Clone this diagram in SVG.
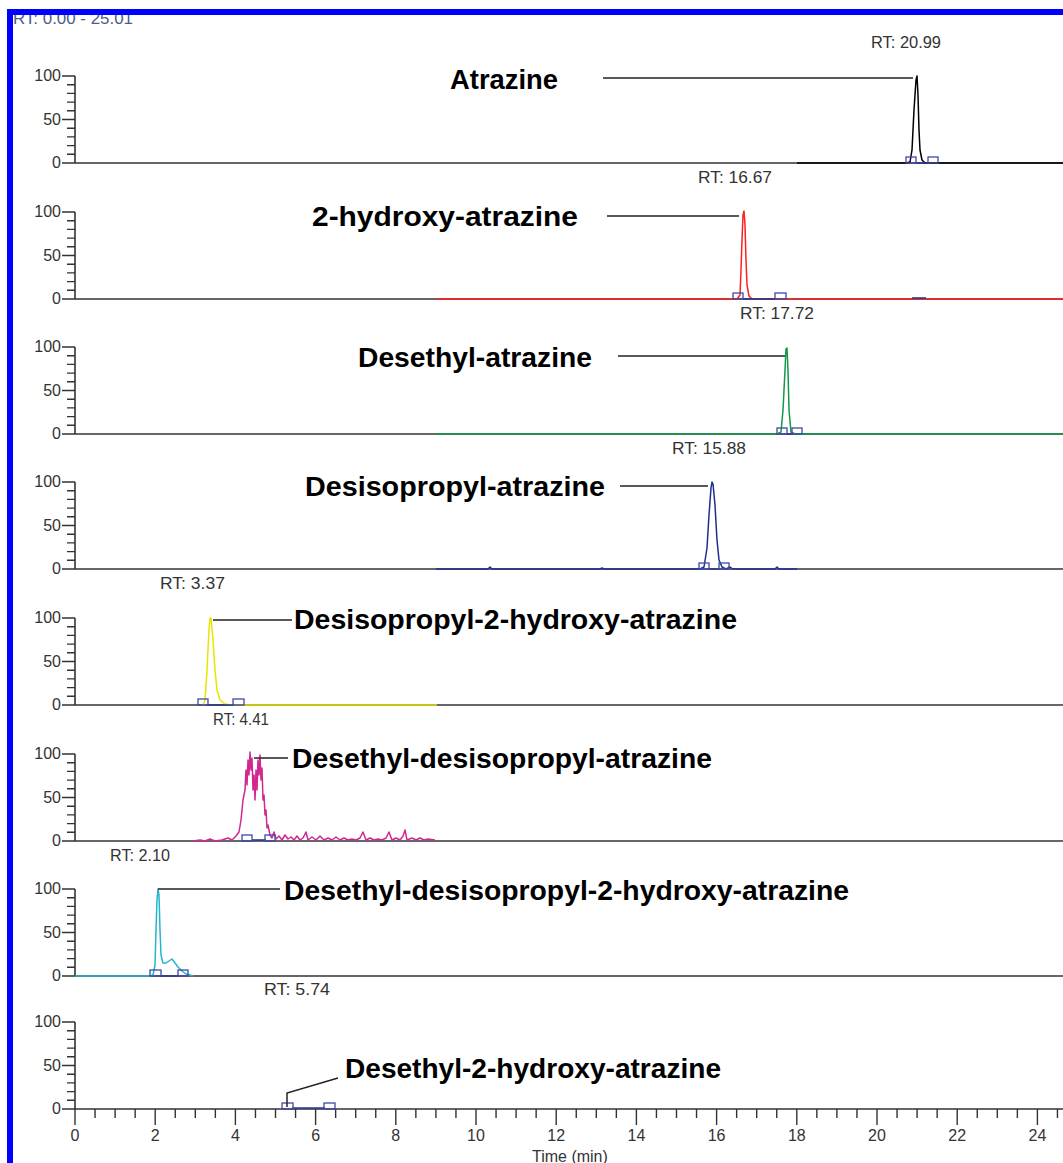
<svg xmlns="http://www.w3.org/2000/svg" width="1063" height="1163" viewBox="0 0 1063 1163">
<style>
.ax{stroke:#333;stroke-width:1.6;fill:none}
.tk{stroke:#333;stroke-width:1.4;fill:none}
.yl{font-family:"Liberation Sans",Arial,sans-serif;font-size:16px;fill:#333;text-anchor:end}
.xl{font-family:"Liberation Sans",Arial,sans-serif;font-size:16px;fill:#333;text-anchor:middle}
.rt{font-family:"Liberation Sans",Arial,sans-serif;font-size:16px;fill:#333}
.lb{font-family:"Liberation Sans",Arial,sans-serif;font-size:28px;font-weight:bold;fill:#000}
.tr{fill:none;stroke-width:1.5;stroke-linejoin:round}
.bx{fill:none;stroke:#4048a8;stroke-width:1.3}
.ib{stroke:#2a3590;stroke-width:1.6}
.ld{stroke:#222;stroke-width:1.5;fill:none}
</style>
<defs>
<g id="yax">
<line class="ax" x1="75" y1="-87" x2="75" y2="0"/>
<path class="tk" d="M62 -87H75M67 -78.3H75M67 -69.6H75M67 -60.9H75M67 -52.2H75M62 -43.5H75M67 -34.8H75M67 -26.1H75M67 -17.4H75M67 -8.7H75M62 0H75"/>
<text class="yl" x="61" y="-82">100</text>
<text class="yl" x="61" y="-38.5">50</text>
<text class="yl" x="61" y="5">0</text>
<line class="ax" x1="75" y1="0" x2="1063" y2="0"/>
</g>
</defs>
<rect width="1063" height="1163" fill="#fff"/>
<text x="13" y="24" font-family="Liberation Sans,Arial,sans-serif" font-size="16.5" fill="#4c5c8c" textLength="120" lengthAdjust="spacingAndGlyphs">RT: 0.00 - 25.01</text>

<g id="panel1">
<use href="#yax" transform="translate(0,163)"/>
<polyline class="tr" stroke="#000" stroke-width="2.2" points="797,163 906,163 910,162 912,150 914,110 916,80 917,76 918,95 919,130 920,150 922,160 925,163 1063,163"/>
<line class="ib" x1="915" y1="163" x2="929" y2="163"/>
<rect class="bx" x="906" y="157" width="10" height="6"/>
<rect class="bx" x="928" y="157" width="10" height="6"/>
<text class="rt" x="871" y="48" textLength="70" lengthAdjust="spacingAndGlyphs">RT: 20.99</text>
<text class="lb" x="450" y="89" textLength="108" lengthAdjust="spacingAndGlyphs">Atrazine</text>
</g>

<g id="panel2">
<use href="#yax" transform="translate(0,299)"/>
<polyline class="tr" stroke="#ff2020" points="436,299 737,299 740,295 741,270 742,240 743,215 744,211 745,225 746,260 747,285 749,296 752,299 1063,299"/>
<line class="ib" x1="743" y1="299" x2="775" y2="299"/>
<rect class="bx" x="733" y="293" width="10" height="6"/>
<rect class="bx" x="775" y="293" width="11" height="6"/>
<path class="ib" d="M912 298h14" stroke-width="1.2"/>
<text class="rt" x="698" y="183" textLength="74" lengthAdjust="spacingAndGlyphs">RT: 16.67</text>
<text class="lb" x="312" y="226" textLength="266" lengthAdjust="spacingAndGlyphs">2-hydroxy-atrazine</text>
</g>

<g id="panel3">
<use href="#yax" transform="translate(0,434)"/>
<polyline class="tr" stroke="#13994a" points="436,434 777,434 781,432 783,410 785,370 786,349 787,348 788,370 789,410 791,432 795,434 1063,434"/>
<line class="ib" x1="786" y1="434" x2="793" y2="434"/>
<rect class="bx" x="777" y="428" width="10" height="6"/>
<rect class="bx" x="792" y="428" width="10" height="6"/>
<text class="rt" x="740" y="319" textLength="74" lengthAdjust="spacingAndGlyphs">RT: 17.72</text>
<text class="lb" x="358" y="367" textLength="234" lengthAdjust="spacingAndGlyphs">Desethyl-atrazine</text>
</g>

<g id="panel4">
<use href="#yax" transform="translate(0,569)"/>
<polyline class="tr" stroke="#1f2f8f" points="436,569 488,569 490,567 492,569 600,569 602,568 604,569 700,569 704,567 707,548 709,515 711,488 712,482 713,484 715,505 717,540 719,560 722,567 726,569 730,567 733,569 775,569 777,567 779,569 797,569"/>
<line class="ib" x1="708" y1="569" x2="720" y2="569"/>
<rect class="bx" x="699" y="563" width="10" height="6"/>
<rect class="bx" x="719" y="563" width="10" height="6"/>
<text class="rt" x="672" y="454" textLength="74" lengthAdjust="spacingAndGlyphs">RT: 15.88</text>
<text class="lb" x="305" y="496" textLength="300" lengthAdjust="spacingAndGlyphs">Desisopropyl-atrazine</text>
</g>

<g id="panel5">
<use href="#yax" transform="translate(0,705)"/>
<polyline class="tr" stroke="#e6e600" points="203,705 205,700 207,670 209,630 210,618 211,618 213,640 215,670 217,690 220,700 225,704 232,705 437,705"/>
<line class="ib" x1="207" y1="705" x2="234" y2="705"/>
<rect class="bx" x="198" y="699" width="10" height="6"/>
<rect class="bx" x="233" y="699" width="11" height="6"/>
<text class="rt" x="160" y="589" textLength="65" lengthAdjust="spacingAndGlyphs">RT: 3.37</text>
<text class="lb" x="294" y="629" textLength="443" lengthAdjust="spacingAndGlyphs">Desisopropyl-2-hydroxy-atrazine</text>
</g>

<g id="panel6">
<use href="#yax" transform="translate(0,841)"/>
<polyline class="tr" stroke="#d02890" stroke-width="1.3" points="193,841 200,840 205,841 210,839 215,841 222,840 228,838 232,840 236,836 239,832 241,820 243,800 245,790 246,770 247,785 248,760 249,775 250,752 251,770 252,758 253,790 254,775 255,800 256,770 257,790 258,760 259,775 260,755 261,780 262,768 263,800 264,795 265,815 266,810 267,828 268,825 270,835 272,838 274,832 276,839 279,836 282,840 285,835 288,839 291,837 294,840 297,836 300,840 303,838 306,832 308,840 312,837 316,840 320,836 324,840 328,838 332,840 336,837 340,840 344,838 348,840 352,839 356,840 360,838 363,832 366,840 370,838 374,840 378,839 382,840 386,838 389,832 392,840 396,838 400,840 403,836 405,830 407,840 412,838 416,840 420,838 424,840 428,839 435,840"/>
<line class="ib" x1="252" y1="840" x2="266" y2="840"/>
<rect class="bx" x="242" y="835" width="10" height="6"/>
<rect class="bx" x="265" y="835" width="10" height="6"/>
<text class="rt" x="213" y="725" textLength="56" lengthAdjust="spacingAndGlyphs">RT: 4.41</text>
<text class="lb" x="292" y="768" textLength="420" lengthAdjust="spacingAndGlyphs">Desethyl-desisopropyl-atrazine</text>
</g>

<g id="panel7">
<use href="#yax" transform="translate(0,976)"/>
<polyline class="tr" stroke="#25b5cc" points="75,976 150,976 153,975 155,965 156,930 157,900 158,889 159,895 160,930 161,955 163,963 166,963 169,961 172,959 175,963 178,967 182,971 186,974 190,975 193,976"/>
<line class="ib" x1="160" y1="976" x2="179" y2="976"/>
<rect class="bx" x="150" y="970" width="11" height="6"/>
<rect class="bx" x="178" y="970" width="10" height="6"/>
<text class="rt" x="110" y="861" textLength="60" lengthAdjust="spacingAndGlyphs">RT: 2.10</text>
<text class="lb" x="284" y="900" textLength="565" lengthAdjust="spacingAndGlyphs">Desethyl-desisopropyl-2-hydroxy-atrazine</text>
</g>

<g id="panel8">
<use href="#yax" transform="translate(0,1109)"/>
<path class="tk" d="M75 1109v16M95.05 1109v9M115.1 1109v9M135.15 1109v9M155.2 1109v16M175.25 1109v9M195.3 1109v9M215.35 1109v9M235.4 1109v16M255.45 1109v9M275.5 1109v9M295.55 1109v9M315.6 1109v16M335.65 1109v9M355.7 1109v9M375.75 1109v9M395.8 1109v16M415.85 1109v9M435.9 1109v9M455.95 1109v9M476 1109v16M496.05 1109v9M516.1 1109v9M536.15 1109v9M556.2 1109v16M576.25 1109v9M596.3 1109v9M616.35 1109v9M636.4 1109v16M656.45 1109v9M676.5 1109v9M696.55 1109v9M716.6 1109v16M736.65 1109v9M756.7 1109v9M776.75 1109v9M796.8 1109v16M816.85 1109v9M836.9 1109v9M856.95 1109v9M877 1109v16M897.05 1109v9M917.1 1109v9M937.15 1109v9M957.2 1109v16M977.25 1109v9M997.3 1109v9M1017.35 1109v9M1037.4 1109v16M1057.45 1109v9"/>
<text class="xl" x="75" y="1141">0</text>
<text class="xl" x="155.2" y="1141">2</text>
<text class="xl" x="235.4" y="1141">4</text>
<text class="xl" x="315.6" y="1141">6</text>
<text class="xl" x="395.8" y="1141">8</text>
<text class="xl" x="476" y="1141">10</text>
<text class="xl" x="556.2" y="1141">12</text>
<text class="xl" x="636.4" y="1141">14</text>
<text class="xl" x="716.6" y="1141">16</text>
<text class="xl" x="796.8" y="1141">18</text>
<text class="xl" x="877" y="1141">20</text>
<text class="xl" x="957.2" y="1141">22</text>
<text class="xl" x="1037.4" y="1141">24</text>
<text class="rt" x="532" y="1162">Time (min)</text>
<line class="ib" x1="292" y1="1108" x2="325" y2="1108"/>
<rect class="bx" x="282" y="1103" width="11" height="6"/>
<rect class="bx" x="324" y="1103" width="11" height="6"/>
<text class="rt" x="264" y="995" textLength="66" lengthAdjust="spacingAndGlyphs">RT: 5.74</text>
<text class="lb" x="345" y="1078" textLength="376" lengthAdjust="spacingAndGlyphs">Desethyl-2-hydroxy-atrazine</text>
</g>

<g id="connectors">
<line class="ld" x1="603" y1="78" x2="913" y2="78"/>
<line class="ld" x1="607" y1="216" x2="739" y2="216"/>
<line class="ld" x1="618" y1="356" x2="785" y2="356"/>
<line class="ld" x1="620" y1="486" x2="708" y2="486"/>
<line class="ld" x1="213" y1="620" x2="292" y2="620"/>
<line class="ld" x1="254" y1="758" x2="288" y2="758"/>
<line class="ld" x1="158" y1="889" x2="280" y2="889"/>
<polyline class="ld" points="287,1107 287,1093 338,1078"/>
</g>

<rect x="10" y="12" width="1100" height="1200" fill="none" stroke="#0000ff" stroke-width="6"/>
</svg>
